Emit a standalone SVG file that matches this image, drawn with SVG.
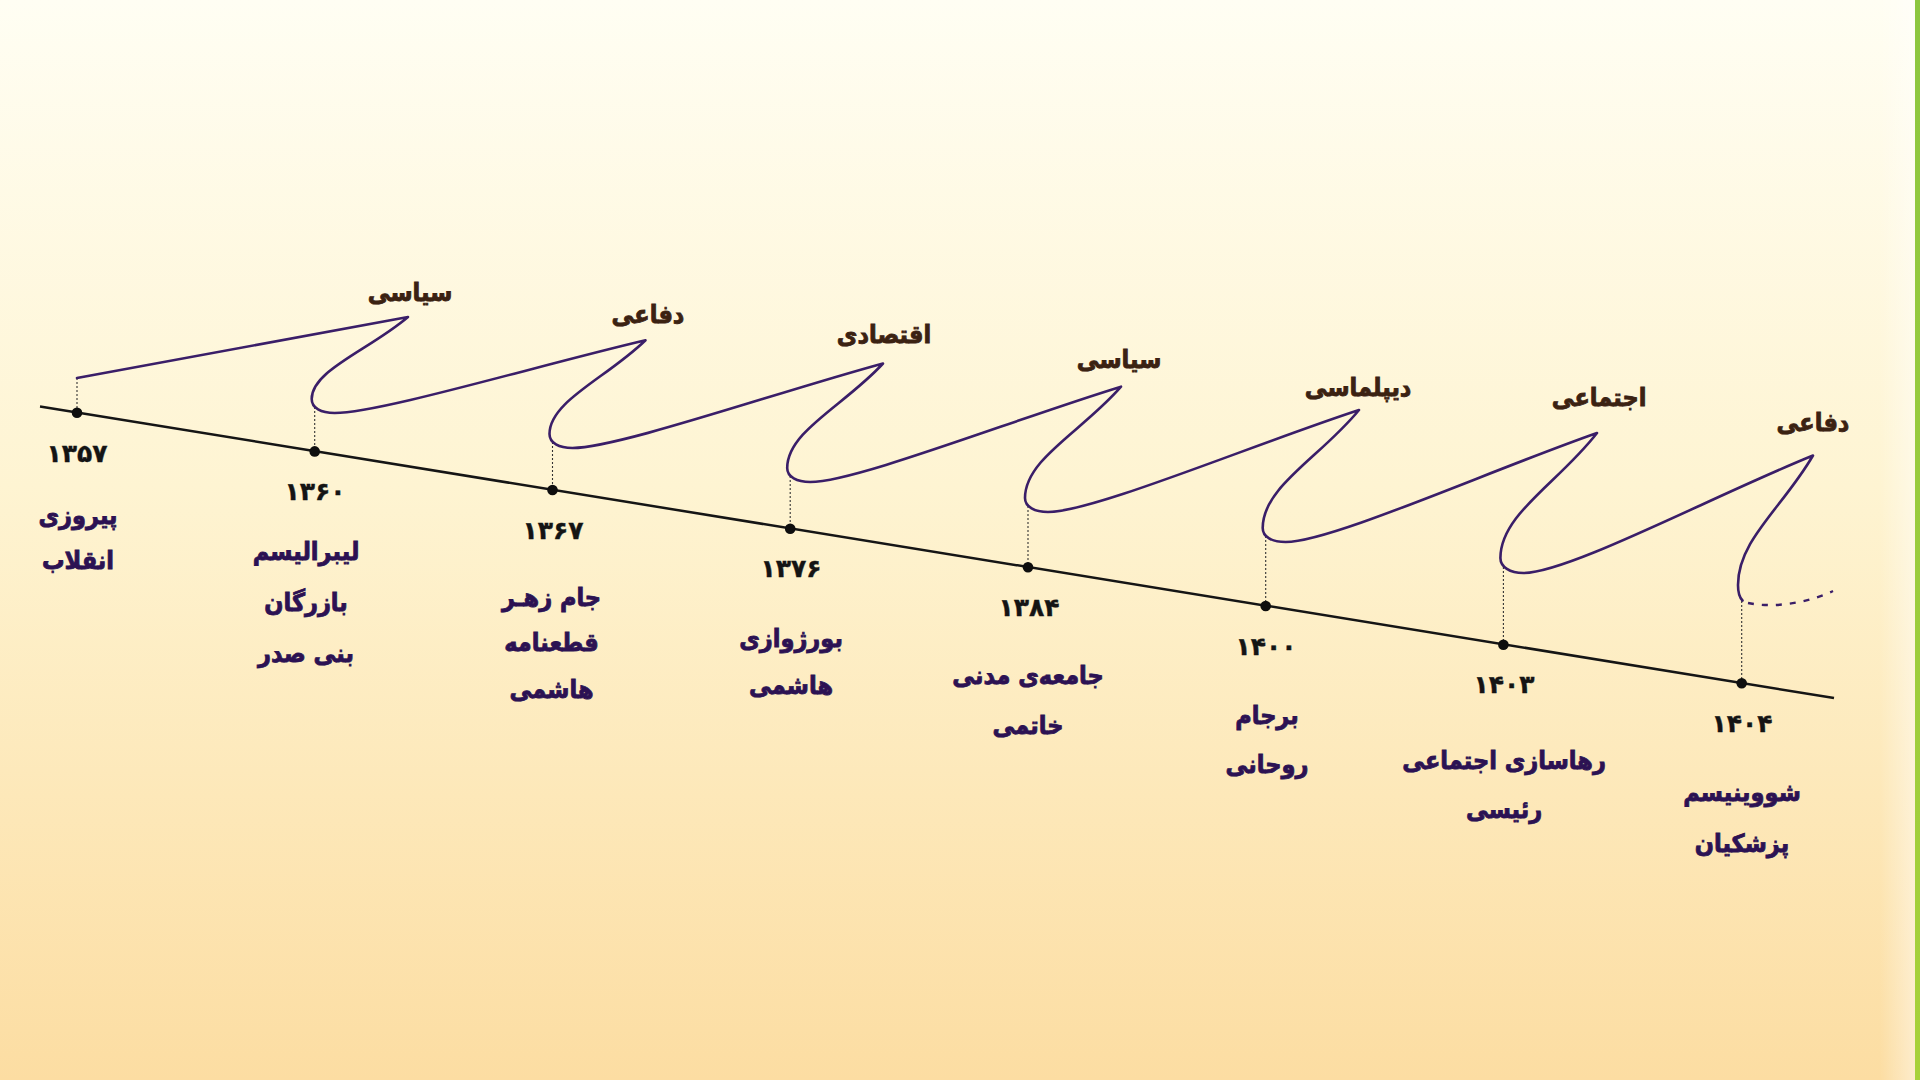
<svg xmlns="http://www.w3.org/2000/svg" width="1920" height="1080" viewBox="0 0 1920 1080">
<defs>
<linearGradient id="bg" x1="0" y1="0" x2="0" y2="1">
<stop offset="0" stop-color="#FFFEF3"/>
<stop offset="0.45" stop-color="#FEF4D2"/>
<stop offset="1" stop-color="#FCDDA2"/>
</linearGradient>
<linearGradient id="edge" x1="0" y1="0" x2="0" y2="1">
<stop offset="0" stop-color="#8CC63F"/>
<stop offset="1" stop-color="#A8D13A"/>
</linearGradient>
<linearGradient id="strip" x1="0" y1="0" x2="1" y2="0">
<stop offset="0" stop-color="#FFFFFF" stop-opacity="0"/>
<stop offset="1" stop-color="#FFFFFF" stop-opacity="0.45"/>
</linearGradient>
</defs>
<style>
text{font-family:"DejaVu Sans Condensed","DejaVu Sans",sans-serif;font-weight:bold;text-anchor:middle}
.peak{font-size:25px;fill:#3B2212;stroke:#3B2212;stroke-width:0.8}
.year{font-family:"DejaVu Sans",sans-serif;font-size:25px;fill:#141414;stroke:#141414;stroke-width:0.4}
.lbl{font-size:25px;fill:#2C1253;stroke:#2C1253;stroke-width:0.8}
.base{stroke:#151515;stroke-width:2.5;fill:none}
.wave{stroke:#3A1E68;stroke-width:2.6;fill:none;stroke-linejoin:round;stroke-linecap:round}
.dash{stroke:#3A1E68;stroke-width:2.4;fill:none;stroke-dasharray:6 8}
.dot{stroke:#333;stroke-width:1.1;stroke-dasharray:2 2;fill:none}
.pt{fill:#0E0E0E}
</style>
<rect x="0" y="0" width="1920" height="1080" fill="url(#bg)"/>
<rect x="1880" y="0" width="36" height="1080" fill="url(#strip)"/>
<rect x="1915" y="0" width="5" height="1080" fill="url(#edge)"/>

<g id="connectors">
<line class="base" x1="40" y1="406.5" x2="1834" y2="698"/>
<path class="dot" d="M77 378V413M314.7 407V451M552.5 442V490M790.2 476V528M1028 506V567M1265.7 536V606M1503.4 567V644M1741.7 601V683"/>
<path class="wave" d="M77 378 L408 317
C369.5 349.8 311.7 370.3 311.7 399 C311.7 408 321 413 334.7 413 C379.7 413 536.7 365.7 645.5 340.2
C607.1 377.7 549.5 401.2 549.5 434 C549.5 443 559 448 572.5 448 C617.5 448 774.3 393.1 883 363.5
C844.7 405.3 787.2 431.4 787.2 468 C787.2 477 797 482 810.2 482 C855.2 482 1012.2 420.1 1121 386.7
C1082.6 431.2 1025 459 1025 498 C1025 507 1035 512 1048 512 C1093 512 1250.1 445.7 1359 410
C1320.5 457.2 1262.7 486.7 1262.7 528 C1262.7 537 1272 542 1285.7 542 C1330.7 542 1488 471.2 1597 433
C1558.4 483 1500.4 514.2 1500.4 558 C1500.4 567 1510 573 1523.4 573 C1568.4 573 1711.6 496.6 1813 455.5
C1783 507.3 1738 540 1738 585 C1738 592 1740 598 1742.5 600.5"/>
<path class="dash" d="M1748 603 C1772 608 1805 604 1833 591"/>
</g>

<g id="peak-1"><text class="peak" x="410" y="301">سیاسی</text></g>
<g id="peak-2"><text class="peak" x="648" y="323">دفاعی</text></g>
<g id="peak-3"><text class="peak" x="884" y="343">اقتصادی</text></g>
<g id="peak-4"><text class="peak" x="1119" y="368">سیاسی</text></g>
<g id="peak-5"><text class="peak" x="1358" y="396">دیپلماسی</text></g>
<g id="peak-6"><text class="peak" x="1599" y="406">اجتماعی</text></g>
<g id="peak-7"><text class="peak" x="1813" y="431">دفاعی</text></g>

<g id="node-1357">
<circle class="pt" cx="77" cy="412.7" r="5.3"/>
<text class="year" x="77" y="462">۱۳۵۷</text>
<text class="lbl" x="78" y="524">پیروزی</text>
<text class="lbl" x="78" y="569">انقلاب</text>
</g>
<g id="node-1360">
<circle class="pt" cx="314.7" cy="451.4" r="5.3"/>
<text class="year" x="315" y="500">۱۳۶۰</text>
<text class="lbl" x="306" y="560">لیبرالیسم</text>
<text class="lbl" x="306" y="611">بازرگان</text>
<text class="lbl" x="306" y="662">بنی صدر</text>
</g>
<g id="node-1367">
<circle class="pt" cx="552.5" cy="490" r="5.3"/>
<text class="year" x="553" y="539">۱۳۶۷</text>
<text class="lbl" x="551.5" y="606">جام زهـر</text>
<text class="lbl" x="551.5" y="651">قطعنامه</text>
<text class="lbl" x="551.5" y="698">هاشمی</text>
</g>
<g id="node-1376">
<circle class="pt" cx="790.2" cy="528.7" r="5.3"/>
<text class="year" x="791" y="577">۱۳۷۶</text>
<text class="lbl" x="791" y="647">بورژوازی</text>
<text class="lbl" x="791" y="694">هاشمی</text>
</g>
<g id="node-1384">
<circle class="pt" cx="1028" cy="567.3" r="5.3"/>
<text class="year" x="1029" y="616">۱۳۸۴</text>
<text class="lbl" x="1028" y="684">جامعه&#x200C;ی مدنی</text>
<text class="lbl" x="1028" y="734">خاتمی</text>
</g>
<g id="node-1400">
<circle class="pt" cx="1265.7" cy="606" r="5.3"/>
<text class="year" x="1266" y="655">۱۴۰۰</text>
<text class="lbl" x="1267" y="724">برجام</text>
<text class="lbl" x="1267" y="773">روحانی</text>
</g>
<g id="node-1403">
<circle class="pt" cx="1503.4" cy="644.7" r="5.3"/>
<text class="year" x="1504" y="693">۱۴۰۳</text>
<text class="lbl" x="1504" y="769">رهاسازی اجتماعی</text>
<text class="lbl" x="1504" y="818">رئیسی</text>
</g>
<g id="node-1404">
<circle class="pt" cx="1741.7" cy="683.3" r="5.3"/>
<text class="year" x="1742" y="732">۱۴۰۴</text>
<text class="lbl" x="1742" y="801">شووینیسم</text>
<text class="lbl" x="1742" y="852">پزشکیان</text>
</g>
</svg>
